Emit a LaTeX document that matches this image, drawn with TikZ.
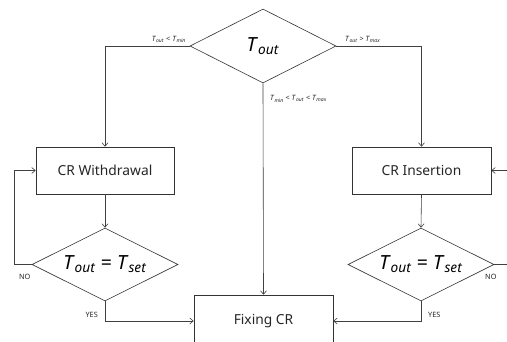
\documentclass[tikz,border=0pt]{standalone}
\usepackage{fontspec}
\setmainfont{Noto Sans}
\usetikzlibrary{shapes.geometric,arrows.meta}
\newcommand\Tv[1]{\textit{T}\textsubscript{\textit{#1}}}
\tikzset{
  box/.style={draw=black!80, line width=0.6pt, rectangle, inner sep=0pt, text=black!85, font=\fontsize{13.8}{15}\selectfont},
  dia/.style={draw=black!80, line width=0.6pt, diamond, aspect=2, inner sep=0pt, minimum width=146pt, minimum height=74pt, font=\fontsize{19.5}{21}\selectfont},
  arr/.style={draw=black!75, line width=0.6pt, -{Straight Barb[length=3.5pt,width=6pt]}},
  lbl/.style={font=\fontsize{7.3}{8}\selectfont, inner sep=0pt, text=black!85}
}
\begin{document}
\begin{tikzpicture}[x=1pt,y=-1pt]
\useasboundingbox (0,0) rectangle (507,341);
\clip (0,0) rectangle (507,341);
\fill[white] (0,0) rectangle (507,341);
\node[dia] (top) at (263,46) {\Tv{out}};
\node[box, minimum width=138pt, minimum height=47pt] (crw) at (105,170.5) {CR Withdrawal};
\node[box, minimum width=139pt, minimum height=47pt] (cri) at (421.5,170.5) {CR Insertion};
\node[dia, minimum height=73pt] (ld) at (105,264.5) {\Tv{out} = \Tv{set}};
\node[dia, minimum height=73pt] (rd) at (421,264.5) {\Tv{out} = \Tv{set}};
\node[box, minimum width=139pt, minimum height=52pt] (fix) at (263.5,321) {Fixing CR};
\coordinate (lloop) at (14,264.5);
\coordinate (rloop) at (515,264.5);
\draw[arr] (top.west) -| (crw.north);
\draw[arr] (top.east) -| (cri.north);
\draw[arr] (top.south) -- (fix.north);
\draw[arr] (crw.south) -- (ld.north);
\draw[arr] (cri.south) -- (rd.north);
\draw[arr] (ld.west) -- (lloop) |- (crw.west);
\draw[arr] (rd.east) -- (rloop) |- (cri.east);
\draw[arr] (ld.south) |- (fix.west);
\draw[arr] (rd.south) |- (fix.east);
\node[lbl, anchor=south east] (l1) at (186,43) {\Tv{out} < \Tv{min}};
\node[lbl, anchor=south west] (l2) at (345,43) {\Tv{out} > \Tv{max}};
\node[lbl, anchor=west] (l3) at (270,99) {\Tv{min} < \Tv{out} < \Tv{max}};
\node[lbl, anchor=west] (n1) at (19,277) {NO};
\node[lbl, anchor=west] (n2) at (485,277) {NO};
\node[lbl, anchor=east] (y1) at (98,315) {YES};
\node[lbl, anchor=west] (y2) at (428,315) {YES};
\end{tikzpicture}
\end{document}
